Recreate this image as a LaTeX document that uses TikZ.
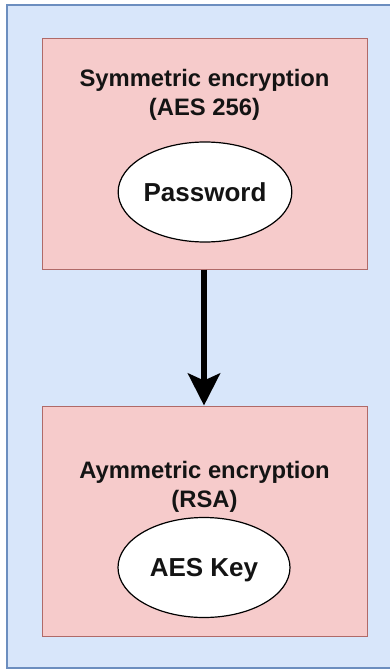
\documentclass[tikz,border=0pt]{standalone}
\usepackage{fontspec}
\setmainfont{Liberation Sans}
\usetikzlibrary{arrows.meta, shapes.geometric}
\definecolor{panelfill}{HTML}{D8E6FA}
\definecolor{panelline}{HTML}{6C8EBF}
\definecolor{boxfill}{HTML}{F6CBCB}
\definecolor{boxline}{HTML}{B06A68}
\definecolor{ink}{HTML}{141414}
\tikzset{
  stagebox/.style={draw=boxline, fill=boxfill, line width=1pt, rectangle,
    minimum width=325pt, minimum height=230pt, inner sep=0pt},
  stagetitle/.style={align=center, inner sep=0pt, text=ink,
    font=\bfseries\fontsize{23.8}{29.5}\selectfont},
  keyoval/.style={draw=black, fill=white, line width=1.2pt, ellipse,
    minimum width=172pt, minimum height=100pt, inner sep=0pt,
    text height=18pt, text depth=0pt, text=ink,
    font=\bfseries\fontsize{26}{30}\selectfont},
  flow/.style={line width=6pt, -{Stealth[length=32pt, width=32pt, inset=7pt]}}
}
\begin{document}
\begin{tikzpicture}[x=1pt, y=-1pt]
  \useasboundingbox (0,0) rectangle (390,669);
  % background panel, running on past the right edge of the page
  \begin{scope}
    \clip (0,0) rectangle (390,669);
    \fill[panelfill] (7,5) rectangle (396,668);
    \draw[panelline, line width=1.2pt] (396,5) -- (7,5) -- (7,668) -- (396,668);
  \end{scope}
  % upper stage
  \node[stagebox] (sym) at (204.5,154) {};
  \node[stagetitle] (symtitle) at (204.5,95) {Symmetric encryption\\(AES 256)};
  \node[keyoval] (pwd) at (205,192) {Password};
  % lower stage
  \node[stagebox] (asym) at (204.5,521) {};
  \node[stagetitle] (asymtitle) at (204.5,487) {Aymmetric encryption\\(RSA)};
  \node[keyoval] (aeskey) at (204,567.5) {AES Key};
  % flow between stages
  \draw[flow] (sym.south -| 204,0) -- (asym.north -| 204,0);
\end{tikzpicture}
\end{document}
